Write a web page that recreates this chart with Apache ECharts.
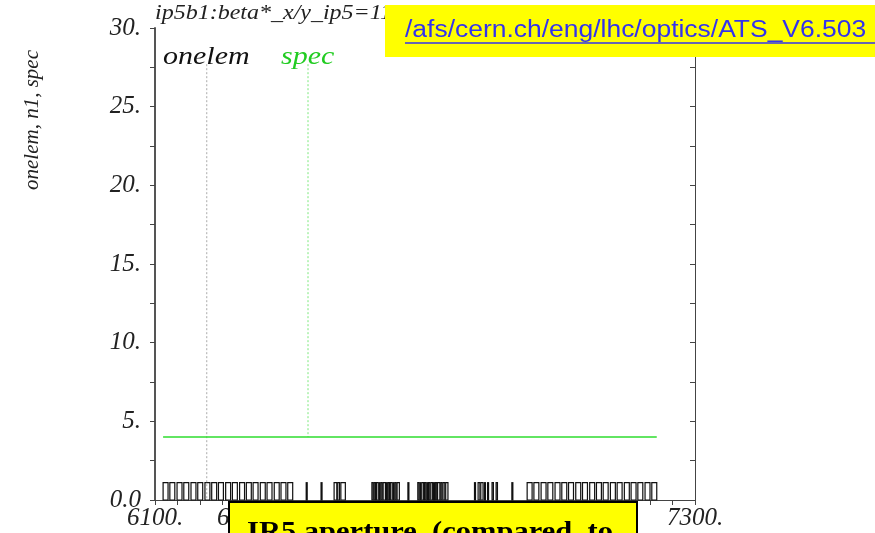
<!DOCTYPE html>
<html>
<head>
<meta charset="utf-8">
<script src="https://cdn.jsdelivr.net/npm/echarts@6/dist/echarts.min.js"></script>
<style>
  html, body { margin: 0; padding: 0; background: #fff; }
  #chart { width: 875px; height: 533px; }
</style>
</head>
<body>
<div id="chart"></div>
<script>
// Longitudinal position range (m) and axis labels
const sMin = 6100, sMax = 7300;
const xLabelValues = [6100, 6300, 6500, 6700, 6900, 7100, 7300];
const yLabelValues = [0, 5, 10, 15, 20, 25, 30];

// spec: constant aperture specification n1 = 4.0 over the region
const specLine = [[6118, 4.0], [7215, 4.0]];

// vertical marker lines: [s, top, bottom]
const onelemMarker = [6215, 27.7, 0];
const specMarker = [6440, 27.7, 4.0];

// Machine elements: [start s, length]
const leftArc = [
  [6118, 11], [6133, 11], [6149, 11], [6164, 11], [6180, 11], [6195, 11],
  [6211, 11], [6226, 11], [6241, 11], [6257, 11], [6272, 11], [6288, 11],
  [6303, 11], [6318, 11], [6334, 11], [6349, 11], [6365, 11], [6380, 11],
  [6395, 11]
];
const insertion = [
  [6436, 2], [6469, 2], [6498, 6], [6506, 4], [6513, 10],
  [6582, 3], [6587, 3], [6592, 4], [6598, 2], [6602, 3], [6607, 5],
  [6614, 2], [6618, 3], [6623, 4], [6629, 2], [6633, 3], [6638, 5],
  [6662, 2],
  [6684, 3], [6689, 2], [6693, 4], [6699, 3], [6704, 2], [6708, 3],
  [6713, 4], [6719, 2], [6723, 3], [6728, 5], [6735, 3], [6740, 4],
  [6746, 5],
  [6810, 2], [6818, 4], [6824, 5], [6832, 2], [6839, 2],
  [6849, 3], [6858, 3], [6893, 2]
];
const rightArc = [
  [6927, 11], [6942, 11], [6958, 11], [6973, 11], [6989, 11], [7004, 11],
  [7019, 11], [7035, 11], [7050, 11], [7066, 11], [7081, 11], [7096, 11],
  [7112, 11], [7127, 11], [7143, 11], [7158, 11], [7173, 11], [7189, 11],
  [7204, 11]
];
const elements = leftArc.concat(insertion, rightArc);

const ELEM_H = 1.1;
const serif = '"Liberation Serif", "DejaVu Serif", serif';
const sans = '"Liberation Sans", Arial, sans-serif';
const WIDE = 1.2; // horizontal stretch of the free text

const chart = echarts.init(document.getElementById('chart'), null, { renderer: 'canvas' });

const labelStyle = { fontFamily: serif, fontStyle: 'italic', fontSize: 25, color: '#222' };

chart.setOption({
  animation: false,
  backgroundColor: '#fff',
  grid: { left: 155, right: 180, top: 28, bottom: 33, containLabel: false },
  xAxis: [
    {
      type: 'value', min: sMin, max: sMax, interval: 50,
      axisLine: { show: true, onZero: false, lineStyle: { color: '#444', width: 1 } },
      axisTick: { show: true, inside: false, length: 4, lineStyle: { color: '#444' } },
      axisLabel: Object.assign({
        customValues: xLabelValues, margin: 6,
        formatter: v => v + '.'
      }, labelStyle),
      splitLine: { show: false }
    },
    {
      type: 'value', position: 'top', min: sMin, max: sMax, interval: 50,
      axisLine: { show: true, lineStyle: { color: '#444', width: 1 } },
      axisTick: { show: true, inside: true, length: 5, lineStyle: { color: '#444' } },
      axisLabel: { show: false },
      splitLine: { show: false }
    }
  ],
  yAxis: [
    {
      type: 'value', min: 0, max: 30, interval: 2.5,
      axisLine: { show: true, onZero: false, lineStyle: { color: '#555', width: 2 } },
      axisTick: { show: true, inside: false, length: 5, lineStyle: { color: '#444' } },
      axisLabel: Object.assign({
        customValues: yLabelValues, margin: 14,
        formatter: v => (v === 0 ? '0.0' : v + '.')
      }, labelStyle),
      splitLine: { show: false }
    },
    {
      type: 'value', position: 'right', min: 0, max: 30, interval: 2.5,
      axisLine: { show: true, lineStyle: { color: '#444', width: 1 } },
      axisTick: { show: true, inside: true, length: 5, lineStyle: { color: '#444' } },
      axisLabel: { show: false },
      splitLine: { show: false }
    }
  ],
  series: [
    {
      name: 'elements', type: 'custom', xAxisIndex: 0, yAxisIndex: 0,
      data: elements, silent: true,
      renderItem: function (params, api) {
        const s = api.value(0), len = api.value(1);
        const p0 = api.coord([s, 0]);
        const p1 = api.coord([s + len, ELEM_H]);
        return {
          type: 'rect',
          shape: { x: p0[0], y: p1[1], width: Math.max(1, p1[0] - p0[0]), height: p0[1] - p1[1] },
          style: { fill: '#fff', stroke: '#111', lineWidth: 1.2 }
        };
      }
    },
    {
      name: 'onelem', type: 'line', showSymbol: false,
      data: [[onelemMarker[0], onelemMarker[1]], [onelemMarker[0], onelemMarker[2]]],
      lineStyle: { color: '#aaa', width: 1, type: [2, 2] }
    },
    {
      name: 'specMarker', type: 'line', showSymbol: false,
      data: [[specMarker[0], specMarker[1]], [specMarker[0], specMarker[2]]],
      lineStyle: { color: '#7be87b', width: 1, type: [2, 2] }
    },
    {
      name: 'spec', type: 'line', showSymbol: false,
      data: specLine,
      lineStyle: { color: '#2edc2e', width: 1.5 }
    }
  ],
  graphic: [
    { type: 'text', x: 155, y: 14, scaleX: WIDE,
      style: { text: 'ip5b1:beta*_x/y_ip5=11', font: 'italic 20px ' + serif, fill: '#222',
               verticalAlign: 'middle' } },
    { type: 'text', x: 163, y: 57, scaleX: WIDE,
      style: { text: 'onelem', font: 'italic 25px ' + serif, fill: '#111', verticalAlign: 'middle' } },
    { type: 'text', x: 281, y: 57, scaleX: WIDE,
      style: { text: 'spec', font: 'italic 25px ' + serif, fill: '#22cc22', verticalAlign: 'middle' } },
    { type: 'text', x: 32, y: 120, rotation: Math.PI / 2,
      style: { text: 'onelem, n1, spec', font: 'italic 21px ' + serif, fill: '#222',
               align: 'center', verticalAlign: 'middle' } },
    // file path banner
    { type: 'rect', shape: { x: 385, y: 5, width: 490, height: 52 },
      style: { fill: '#ffff00' }, z: 100 },
    { type: 'text', x: 405, y: 31, z: 101, scaleX: 1.15,
      style: { text: '/afs/cern.ch/eng/lhc/optics/ATS_V6.503', font: '23px ' + sans,
               fill: '#3333ee', verticalAlign: 'middle' } },
    { type: 'line', shape: { x1: 405, y1: 43, x2: 875, y2: 43 }, z: 101,
      style: { stroke: '#3333ee', lineWidth: 1.5 } },
    // caption box
    { type: 'rect', shape: { x: 229, y: 502, width: 408, height: 50 },
      style: { fill: '#ffff00', stroke: '#000', lineWidth: 2 }, z: 100 },
    { type: 'text', x: 247, y: 519, z: 101, scaleX: 1.09,
      style: { text: 'IR5 aperture  (compared  to', font: 'bold 28px ' + serif,
               fill: '#000', verticalAlign: 'top' } }
  ]
});
</script>
</body>
</html>
